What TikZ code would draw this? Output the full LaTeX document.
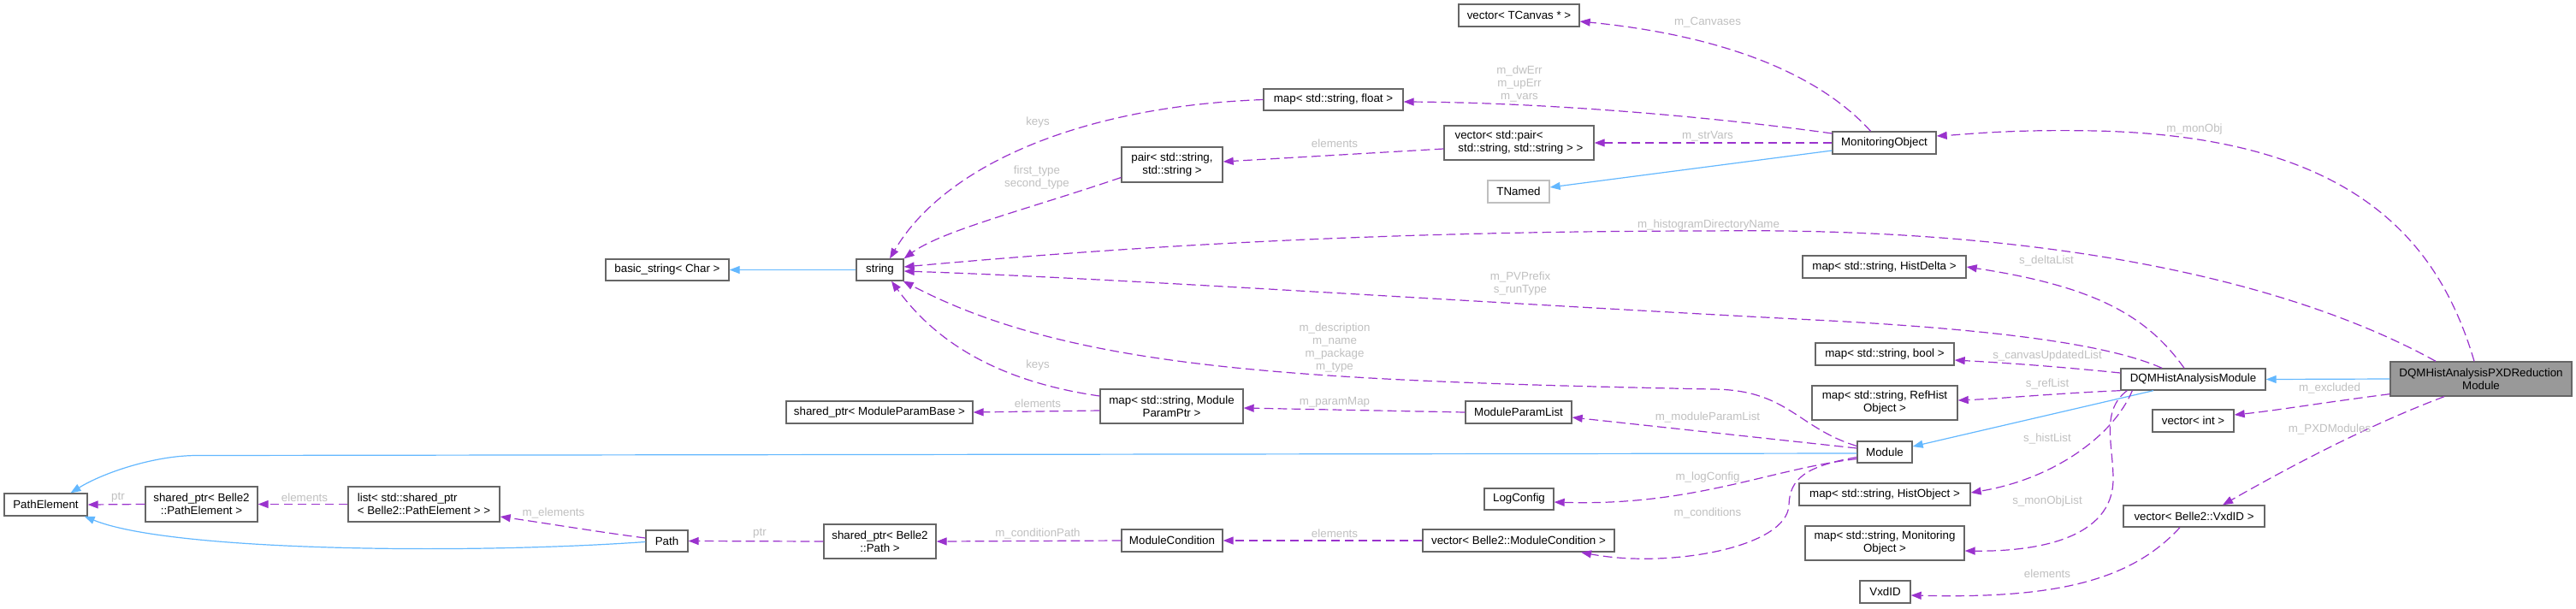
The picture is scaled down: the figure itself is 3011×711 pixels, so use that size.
\documentclass[tikz,border=0pt]{standalone}
\usepackage{fontspec}
\setmainfont{Liberation Sans}
\usetikzlibrary{arrows.meta,calc}
\definecolor{usec}{HTML}{9A32CD}
\definecolor{inhc}{HTML}{63B8FF}
\definecolor{bordc}{HTML}{666666}
\definecolor{lightbord}{HTML}{BFBFBF}
\definecolor{lblc}{HTML}{C0C0C0}
\definecolor{mainfill}{HTML}{999999}
\begin{document}
\begin{tikzpicture}[x=0.75pt,y=-0.75pt,
  every node/.style={font=\fontsize{10}{11.25}\selectfont},
  nb/.style 2 args={draw=bordc, line width=1pt, fill=white, inner sep=0pt,
    minimum width=#1*0.75pt, minimum height=#2*0.75pt, align=center},
  nbl/.style 2 args={nb={#1}{#2}, align=left},
  lbl/.style={text=lblc, inner sep=0pt, align=center},
  usedge/.style={draw=usec, line width=0.9pt, dash pattern=on 8pt off 4pt,
    -{Triangle[length=9pt,width=6.75pt]}},
  inhedge/.style={draw=inhc, line width=0.9pt, -{Triangle[length=9pt,width=6.75pt]}}]
\path[fill=white, use as bounding box] (0,0) rectangle (3011,711);

% ---------------- nodes ----------------
\node[nb={97}{26}] (pe) at (53.5,590) {PathElement};
\node[nb={131}{41}] (spe) at (235.5,589.5) {shared\_ptr< Belle2\\::PathElement >};
\node[nbl={177}{41}] (lpe) at (495.5,589.5) {list< std::shared\_ptr\\< Belle2::PathElement > >};
\node[nb={49}{25}] (path) at (779.5,632.5) {Path};
\node[nb={144}{25}] (bstr) at (780,315.5) {basic\_string< Char >};
\node[nb={55}{25}] (str) at (1028.5,315.5) {string};
\node[nb={218}{26}] (spmpb) at (1028,482) {shared\_ptr< ModuleParamBase >};
\node[nb={131}{40}] (spp) at (1028.5,633) {shared\_ptr< Belle2\\::Path >};
\node[nb={118}{41}] (pair) at (1370,192.5) {pair< std::string,\\ std::string >};
\node[nb={167}{40}] (mpp) at (1369.5,475) {map< std::string, Module\\ParamPtr >};
\node[nb={118}{26}] (mc) at (1370,632) {ModuleCondition};
\node[nb={163}{25}] (mflt) at (1558.5,116.5) {map< std::string, float >};
\node[nb={141}{26}] (vtc) at (1775.5,18) {vector< TCanvas * >};
\node[nbl={175}{40}] (vpair) at (1775.5,167) {vector< std::pair<\\\hspace*{0.28em}std::string, std::string > >};
\node[nb={72}{26}, draw=lightbord] (tnamed) at (1775,224) {TNamed};
\node[nb={124}{26}] (mpl) at (1775,482) {ModuleParamList};
\node[nb={81}{25}] (logc) at (1775.5,583.5) {LogConfig};
\node[nb={224}{26}] (vmc) at (1775,632) {vector< Belle2::ModuleCondition >};
\node[nb={121}{26}] (mo) at (2202.5,167) {MonitoringObject};
\node[nb={191}{26}] (mhd) at (2202.5,312) {map< std::string, HistDelta >};
\node[nb={162}{26}] (mbool) at (2203,414) {map< std::string, bool >};
\node[nb={170}{40}] (mref) at (2203,471) {map< std::string, RefHist\\Object >};
\node[nb={64}{25}] (mod) at (2203,528.5) {Module};
\node[nb={200}{26}] (mho) at (2203,578) {map< std::string, HistObject >};
\node[nb={186}{40}] (mmo) at (2203,635) {map< std::string, Monitoring\\Object >};
\node[nb={59}{26}] (vxd) at (2203.5,692) {VxdID};
\node[nb={169}{25}] (dqm) at (2563.5,443.5) {DQMHistAnalysisModule};
\node[nb={95}{26}] (vint) at (2563.5,492) {vector< int >};
\node[nb={165}{25}] (vvxd) at (2564.5,603.5) {vector< Belle2::VxdID >};
\node[nb={212}{40}, fill=mainfill] (pxd) at (2900,443) {DQMHistAnalysisPXDReduction\\Module};

% ---------------- inheritance edges ----------------
\draw[inhedge] (str.west) -- (bstr.east);
\draw[inhedge] ($(mo.west)+(0,9)$) -- ($(tnamed.east)+(0,-5)$);
\draw[inhedge] ($(mod.west)+(0,1.5)$) -- (230,532.5) .. controls (180,532.5) and (120,553) .. ($(pe.north)+(29,0)$);
\draw[inhedge] ($(path.west)+(0,1)$) .. controls (550,648) and (200,645) .. ($(pe.south east)+(-4,0)$);
\draw[inhedge] ($(dqm.south)+(-46.5,0)$) -- ($(mod.east)+(0,-6.5)$);
\draw[inhedge] (pxd.west) -- (dqm.east);

% ---------------- usage edges ----------------
\draw[usedge] (spe.west) -- (pe.east);
\node[lbl] (l1) at (138,582) {ptr};
\draw[usedge] (lpe.west) -- (spe.east);
\node[lbl] (l2) at (356,582) {elements};
\draw[usedge] ($(path.west)+(0,-3.5)$) .. controls (700,622) and (640,612) .. ($(lpe.east)+(0,14.5)$);
\node[lbl] (l3) at (647,600) {m\_elements};
\draw[usedge] (spp.west) -- (path.east);
\node[lbl] (l4) at (888,624) {ptr};
\draw[usedge] (mc.west) -- (spp.east);
\node[lbl] (l5) at (1213,624) {m\_conditionPath};
\draw[usedge] (vmc.west) -- (mc.east);
\node[lbl] (l6) at (1560,624) {elements};

\draw[usedge] ($(mod.west)+(0,6)$) .. controls (2110,545) and (2092,560) .. (2091,590)
  .. controls (2090,640) and (1950,665) .. ($(vmc.south)+(73,0)$);
\node[lbl] (l7) at (1996,600) {m\_conditions};
\draw[usedge] ($(mod.west)+(0,8)$) .. controls (2070,548) and (1980,592) .. ($(logc.east)+(0,3.5)$);
\node[lbl] (l8) at (1996,558) {m\_logConfig};
\draw[usedge] ($(mod.west)+(0,-4.5)$) -- ($(mpl.east)+(0,6)$);
\node[lbl] (l9) at (1996,488) {m\_moduleParamList};
\draw[usedge] ($(mod.west)+(0,-7)$) .. controls (2100,500) and (2090,455) .. (2000,455)
  .. controls (1500,445) and (1250,430) .. ($(str.south east)+(-1,0)$);
\node[lbl] (l10) at (1560,406.5) {m\_description\\m\_name\\m\_package\\m\_type};

\draw[usedge] ($(mpp.west)+(0,-12)$) .. controls (1160,445) and (1090,395) .. ($(str.south)+(13.5,0)$);
\node[lbl] (l11) at (1213,427) {keys};
\draw[usedge] ($(mpp.west)+(0,5)$) -- (spmpb.east);
\node[lbl] (l12) at (1213,472) {elements};
\draw[usedge] (mpl.west) -- ($(mpp.east)+(0,2)$);
\node[lbl] (l13) at (1560,470) {m\_paramMap};

\draw[usedge] ($(pair.west)+(0,15)$) .. controls (1200,245) and (1100,270) .. (str.north east);
\node[lbl] (l14) at (1212,207.5) {first\_type\\second\_type};
\draw[usedge] (mflt.west) .. controls (1250,125) and (1100,200) .. ($(str.north)+(11.5,0)$);
\node[lbl] (l15) at (1213,143) {keys};
\draw[usedge] ($(vpair.west)+(0,7)$) -- ($(pair.east)+(0,-3.5)$);
\node[lbl] (l16) at (1560,168) {elements};

\draw[usedge] ($(mo.west)+(0,-11)$) .. controls (1990,135) and (1800,120) .. ($(mflt.east)+(0,2.5)$);
\node[lbl] (l17) at (1776,98) {m\_dwErr\\m\_upErr\\m\_vars};
\draw[usedge] (mo.west) -- (vpair.east);
\node[lbl] (l18) at (1996,159) {m\_strVars};
\draw[usedge] ($(mo.north)+(-16,0)$) .. controls (2120,80) and (2000,40) .. ($(vtc.east)+(0,7)$);
\node[lbl] (l19) at (1996,26) {m\_Canvases};

\draw[usedge] ($(pxd.north)+(-8,0)$) .. controls (2850,280) and (2750,160) .. (2450,153)
  .. controls (2350,151) and (2300,157) .. ($(mo.east)+(0,-8)$);
\node[lbl] (l20) at (2565,151) {m\_monObj};
\draw[usedge] ($(pxd.north)+(-53,0)$) .. controls (2680,330) and (2400,265) .. (2000,270)
  .. controls (1600,270) and (1300,290) .. ($(str.east)+(0,-3.5)$);
\node[lbl] (l21) at (1997,263) {m\_histogramDirectoryName};
\draw[usedge] ($(dqm.north)+(-36.5,0)$) .. controls (2470,405) and (2350,385) .. (2100,373)
  .. controls (1700,352) and (1300,325) .. ($(str.east)+(0,1.5)$);
\node[lbl] (l22) at (1777,331.5) {m\_PVPrefix\\s\_runType};
\draw[usedge] ($(dqm.north)+(-10.5,0)$) .. controls (2510,370) and (2450,335) .. (mhd.east);
\node[lbl] (l23) at (2392,305) {s\_deltaList};
\draw[usedge] ($(dqm.west)+(0,-7.5)$) .. controls (2400,428) and (2340,424) .. ($(mbool.east)+(0,7)$);
\node[lbl] (l24) at (2393,416) {s\_canvasUpdatedList};
\draw[usedge] (dqm.south west) .. controls (2400,460) and (2340,466) .. ($(mref.east)+(0,-3)$);
\node[lbl] (l25) at (2393,449) {s\_refList};
\draw[usedge] ($(dqm.south west)+(14,0)$) .. controls (2470,510) and (2400,560) .. ($(mho.east)+(0,-2)$);
\node[lbl] (l26) at (2393,513) {s\_histList};
\draw[usedge] ($(dqm.south west)+(8,0)$) .. controls (2455,480) and (2470,520) .. (2470,560)
  .. controls (2470,630) and (2380,645) .. ($(mmo.east)+(0,9)$);
\node[lbl] (l27) at (2393,586) {s\_monObjList};
\draw[usedge] ($(vvxd.south)+(-16.5,0)$) .. controls (2490,680) and (2400,700) .. ($(vxd.east)+(0,4)$);
\node[lbl] (l28) at (2393,671) {elements};
\draw[usedge] ($(pxd.south west)+(0,-3)$) .. controls (2720,470) and (2660,480) .. ($(vint.east)+(0,-7)$);
\node[lbl] (l29) at (2723,454) {m\_excluded};
\draw[usedge] ($(pxd.south)+(-43,0)$) .. controls (2760,500) and (2660,555) .. ($(vvxd.north)+(33.5,0)$);
\node[lbl] (l30) at (2723,502) {m\_PXDModules};
\end{tikzpicture}
\end{document}
